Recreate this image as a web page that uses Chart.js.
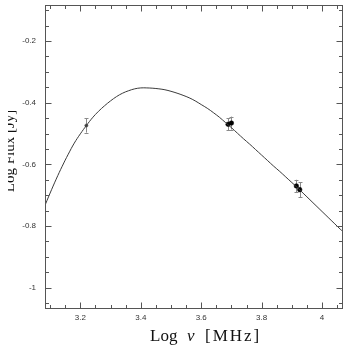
<!DOCTYPE html>
<html><head><meta charset="utf-8">
<script src="https://cdn.jsdelivr.net/npm/chart.js@4/dist/chart.umd.min.js"></script>
<style>html,body{margin:0;padding:0;background:#fff}#wrap{width:347px;height:347px}</style>
</head><body><div id="wrap"><canvas id="c" width="347" height="347"></canvas></div>
<script>
// Model curve
const modelX = [3.08,3.10,3.12,3.14,3.16,3.18,3.20,3.22,3.24,3.26,3.28,3.30,3.32,3.34,3.36,3.38,3.40,3.42,3.44,3.46,3.48,3.50,3.52,3.54,3.56,3.58,3.60,3.62,3.64,3.66,3.68,3.70,3.72,3.74,3.76,3.78,3.80,3.82,3.84,3.86,3.88,3.90,3.92,3.94,3.96,3.98,4.00,4.02,4.04,4.06,4.07];
const modelY = [-0.740,-0.693,-0.648,-0.606,-0.567,-0.531,-0.501,-0.474,-0.449,-0.428,-0.410,-0.394,-0.380,-0.369,-0.361,-0.355,-0.352,-0.352,-0.353,-0.355,-0.358,-0.363,-0.369,-0.376,-0.384,-0.394,-0.406,-0.418,-0.432,-0.447,-0.464,-0.481,-0.499,-0.517,-0.534,-0.552,-0.570,-0.588,-0.606,-0.623,-0.641,-0.659,-0.677,-0.696,-0.715,-0.734,-0.753,-0.772,-0.791,-0.810,-0.819];
// Observed points
const obsX = [3.220, 3.689, 3.700, 3.915, 3.926];
const obsY = [-0.474, -0.470, -0.466, -0.670, -0.682];
const obsErr = [0.023, 0.019, 0.021, 0.020, 0.024];
// Ticks
const xTicks = [3.2, 3.4, 3.6, 3.8, 4];
const yTicks = [-1, -0.8, -0.6, -0.4, -0.2];
const xRange = [3.083, 4.066];
const yRange = [-1.066, -0.083];
const xTitleParts = ['Log', 'ν', '[MHz]'];
const yTitle = 'Log Flux [Jy]';

const modelData = modelX.map((x, i) => ({x, y: modelY[i]}));
const obsData = obsX.map((x, i) => ({x, y: obsY[i]}));

const framePlugin = {
  id: 'frame',
  beforeDatasetsDraw(chart) {
    const {ctx, scales: {x, y}} = chart;
    ctx.save();
    ctx.strokeStyle = '#8a8a8a';
    ctx.lineWidth = 1;
    obsX.forEach((xv, i) => {
      const px = Math.round(x.getPixelForValue(xv)) + 0.5;
      const y1 = y.getPixelForValue(obsY[i] + obsErr[i]);
      const y2 = y.getPixelForValue(obsY[i] - obsErr[i]);
      ctx.beginPath();
      ctx.moveTo(px, y1); ctx.lineTo(px, y2);
      ctx.moveTo(px - 2, Math.round(y1) + 0.5); ctx.lineTo(px + 2, Math.round(y1) + 0.5);
      ctx.moveTo(px - 2, Math.round(y2) + 0.5); ctx.lineTo(px + 2, Math.round(y2) + 0.5);
      ctx.stroke();
    });
    ctx.restore();
  },
  afterDraw(chart) {
    const {ctx, chartArea: a, scales: {x, y}} = chart;
    ctx.save();
    ctx.strokeStyle = '#555';
    ctx.lineWidth = 1;
    const L = Math.round(a.left) + 0.5, R = Math.round(a.right) + 0.5;
    const T = Math.round(a.top) + 0.5, B = Math.round(a.bottom) + 0.5;
    ctx.strokeRect(L, T, R - L, B - T);
    ctx.beginPath();
    for (let k = Math.ceil(xRange[0] / 0.05); k * 0.05 <= xRange[1]; k++) {
      const v = k * 0.05;
      const len = (k % 4 === 0) ? 6 : 3.5;
      const px = Math.round(x.getPixelForValue(v)) + 0.5;
      ctx.moveTo(px, B); ctx.lineTo(px, B - len);
      ctx.moveTo(px, T); ctx.lineTo(px, T + len);
    }
    for (let k = Math.ceil(yRange[0] / 0.05); k * 0.05 <= yRange[1]; k++) {
      const v = k * 0.05;
      const len = (k % 4 === 0) ? 6 : 3.5;
      const py = Math.round(y.getPixelForValue(v)) + 0.5;
      ctx.moveTo(L, py); ctx.lineTo(L + len, py);
      ctx.moveTo(R, py); ctx.lineTo(R - len, py);
    }
    ctx.stroke();
    // x title
    ctx.fillStyle = '#111';
    ctx.textBaseline = 'alphabetic';
    ctx.textAlign = 'left';
    ctx.font = '17px "Liberation Serif"';
    ctx.fillText(xTitleParts[0], 150, 341);
    ctx.font = 'italic 17px "Liberation Serif"';
    ctx.fillText(xTitleParts[1], 187, 341);
    ctx.font = '17px "Liberation Serif"';
    try { ctx.letterSpacing = '2px'; } catch (e) {}
    ctx.fillText(xTitleParts[2], 205, 341);
    try { ctx.letterSpacing = '0px'; } catch (e) {}
    // y title (clipped at left like the reference)
    ctx.beginPath();
    ctx.rect(8, 0, 347, 347);
    ctx.clip();
    ctx.translate(14, 151);
    ctx.rotate(-Math.PI / 2);
    ctx.textAlign = 'center';
    ctx.font = '15px "Liberation Serif"';
    ctx.fillText(yTitle, 0, 0);
    ctx.restore();
  }
};

new Chart(document.getElementById('c'), {
  type: 'scatter',
  data: {
    datasets: [
      {
        data: modelData, showLine: true, pointRadius: 0, borderColor: '#3a3a3a',
        borderWidth: 1, tension: 0.4, fill: false
      },
      {
        data: obsData, showLine: false,
        pointRadius: [1.6, 2.3, 2.3, 2.3, 2.3],
        pointBackgroundColor: ['#444', '#000', '#000', '#000', '#000'],
        pointBorderColor: ['#444', '#000', '#000', '#000', '#000'],
        pointBorderWidth: 0.5
      }
    ]
  },
  options: {
    responsive: false, animation: false, devicePixelRatio: 1,
    layout: {padding: {top: 5, right: 5, left: 0, bottom: 0}},
    plugins: {legend: {display: false}, tooltip: {enabled: false}},
    scales: {
      x: {
        type: 'linear', min: xRange[0], max: xRange[1],
        afterBuildTicks: s => { s.ticks = xTicks.map(v => ({value: v})); },
        afterFit: s => { s.height = 39; s.paddingLeft = 0; s.paddingRight = 0; },
        grid: {display: false, drawTicks: false}, border: {display: false},
        ticks: {padding: 5, color: '#333', font: {size: 8, family: 'Liberation Sans'}, callback: v => String(v), maxRotation: 0}
      },
      y: {
        type: 'linear', min: yRange[0], max: yRange[1],
        afterBuildTicks: s => { s.ticks = yTicks.map(v => ({value: v})); },
        afterFit: s => { s.width = 45; s.paddingTop = 0; s.paddingBottom = 0; },
        grid: {display: false, drawTicks: false}, border: {display: false},
        ticks: {padding: 9, color: '#333', font: {size: 8, family: 'Liberation Sans'}, callback: v => String(v)}
      }
    }
  },
  plugins: [framePlugin]
});
</script>
</body></html>
